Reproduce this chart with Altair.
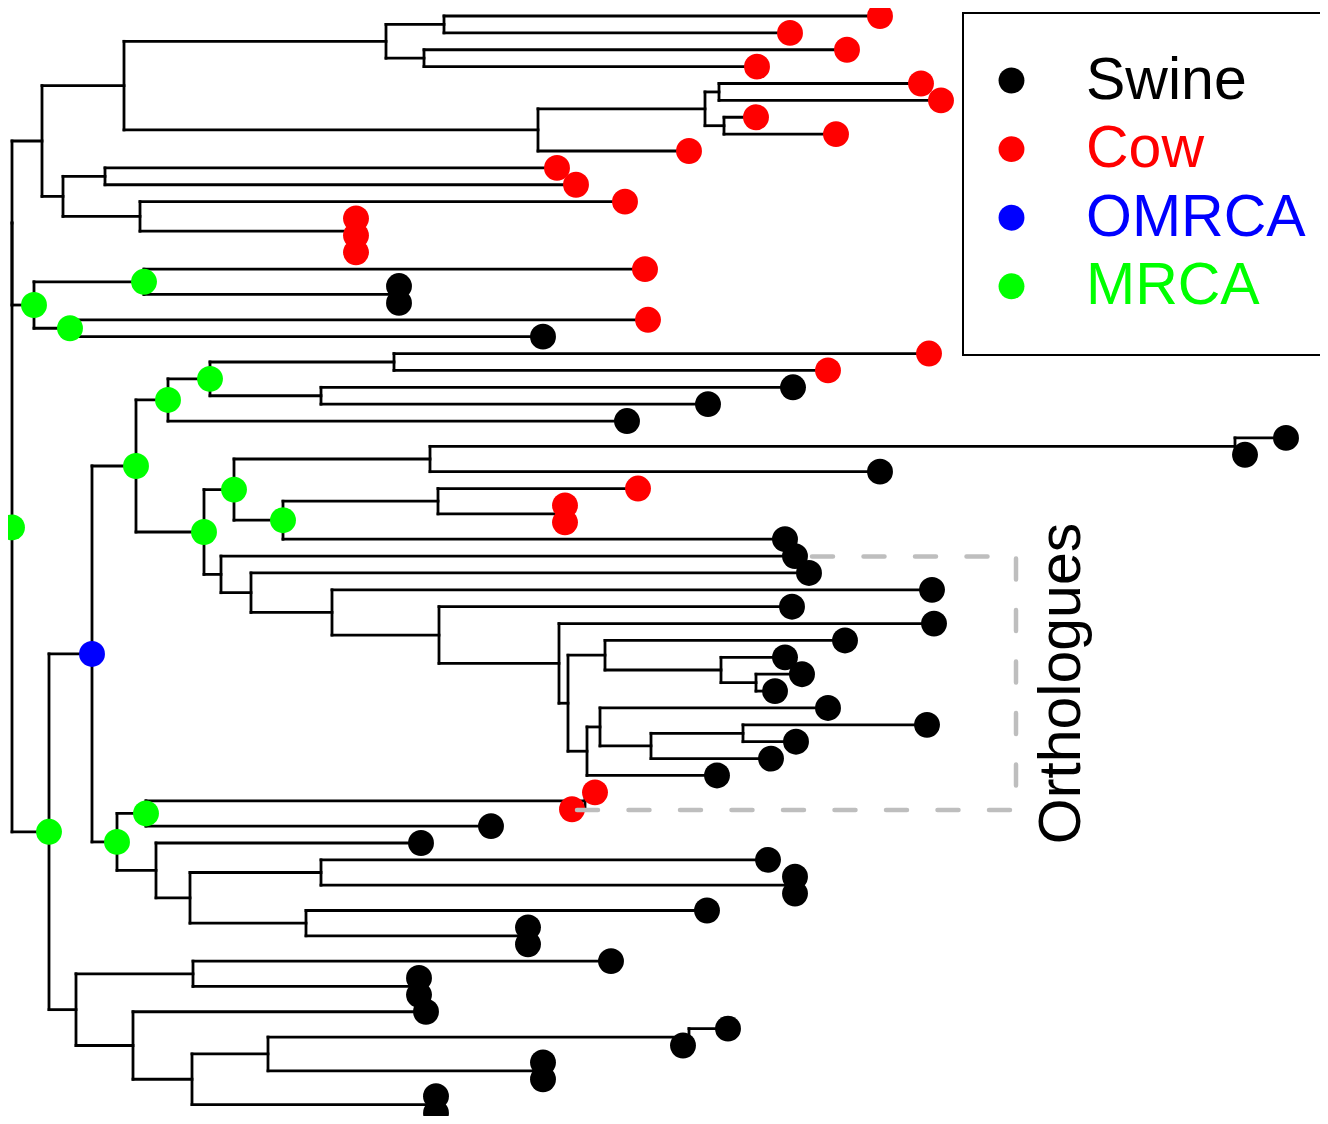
import altair as alt
import pandas as pd

# ---------------- data ----------------
# Tips, top to bottom: depth from the root (branch-length units) and host
tip_depth = [0.868, 0.778, 0.835, 0.745, 0.909, 0.929, 0.744, 0.824, 0.677, 0.545,
             0.564, 0.613, 0.344, 0.344, 0.344, 0.633, 0.387, 0.387, 0.636, 0.531,
             0.917, 0.816, 0.781, 0.696, 0.615, 1.274, 1.233, 0.868, 0.626, 0.553,
             0.553, 0.773, 0.783, 0.797, 0.920, 0.780, 0.922, 0.833, 0.773, 0.790,
             0.763, 0.816, 0.915, 0.784, 0.759, 0.705, 0.583, 0.560, 0.479, 0.409,
             0.756, 0.783, 0.783, 0.695, 0.516, 0.516, 0.599, 0.407, 0.407, 0.414,
             0.716, 0.671, 0.531, 0.531, 0.424, 0.424]
tip_host = (["Cow"] * 16 + ["Swine"] * 2 + ["Cow"] + ["Swine"] + ["Cow"] * 2 +
            ["Swine"] * 6 + ["Cow"] * 3 + ["Swine"] * 15 + ["Cow"] * 2 + ["Swine"] * 18)

# Internal nodes: name, depth, children (ints are tips), marker
node_name = ["root", "AC", "A", "A1", "A1a", "A1a1", "A1a2", "A1b", "A1b1", "A1b1a",
             "A1b1b", "A2", "A2a", "A2b", "X", "Y", "C", "C1", "C1b", "C2",
             "B", "B1", "B1a", "B1a1", "B1a1a", "B1a1a1", "B1a1a2", "B1a2", "B1a2a", "N430",
             "N1235", "G283", "N438", "N560", "B1a2b", "N251", "N332", "N439", "N559", "N568",
             "N605", "N721", "N756", "N587", "N600", "N651", "N743", "B1b", "B1b1", "N585",
             "B1b2", "N190", "N321", "N788", "N306", "N522", "B2", "B2a", "N414", "B2b",
             "N192", "N268", "N689", "N538", "N432"]
node_depth = [0.000, 0.000, 0.030, 0.112, 0.374, 0.432, 0.412, 0.526, 0.693, 0.707,
              0.712, 0.051, 0.093, 0.128, 0.337, 0.340, 0.022, 0.132, 0.381, 0.058,
              0.037, 0.080, 0.124, 0.156, 0.198, 0.382, 0.309, 0.192, 0.222, 0.418,
              1.223, 0.271, 0.426, 0.548, 0.209, 0.239, 0.320, 0.427, 0.547, 0.556,
              0.593, 0.709, 0.744, 0.575, 0.588, 0.639, 0.731, 0.105, 0.134, 0.573,
              0.144, 0.178, 0.309, 0.776, 0.294, 0.510, 0.064, 0.181, 0.402, 0.121,
              0.180, 0.256, 0.677, 0.526, 0.420]
node_kids = [["AC", "B"], ["A", "C"], ["A1", "A2"], ["A1a", "A1b"], ["A1a1", "A1a2"],
             [0, 1], [2, 3], ["A1b1", 8], ["A1b1a", "A1b1b"], [4, 5],
             [6, 7], ["A2a", "A2b"], [9, 10], [11, "X"], [12, "Y"], [13, 14],
             ["C1", "C2"], [15, "C1b"], [16, 17], [18, 19],
             ["B1", "B2"], ["B1a", "B1b"], ["B1a1", "B1a2"], ["B1a1a", 24],
             ["B1a1a1", "B1a1a2"], [20, 21], [22, 23], ["B1a2a", "B1a2b"],
             ["N430", "G283"], ["N1235", 27],
             [25, 26], ["N438", 31], [28, "N560"], [29, 30], [32, "N251"],
             [33, "N332"], [34, "N439"], [35, "N559"], [36, "N568"], ["N605", "N587"],
             [37, "N721"], [38, "N756"], [39, 40], ["N600", 45], [41, "N651"],
             ["N743", 44], [42, 43], ["B1b1", "B1b2"], ["N585", 48], [46, 47],
             [49, "N190"], ["N321", "N306"], [50, "N788"], [51, 52], [53, "N522"],
             [54, 55], ["B2a", "B2b"], [56, "N414"], [57, 58], [59, "N192"],
             ["N268", "N432"], ["N689", "N538"], [60, 61], [62, 63], [64, 65]]
mrca_nodes = ["root", "C", "C1", "C2", "B", "B1a", "B1a1", "B1a1a", "B1a2",
              "B1a2a", "G283", "B1b", "B1b1"]
omrca_nodes = ["B1"]

categories = ["Swine", "Cow", "OMRCA", "MRCA"]
cat_colors = ["#000000", "#FF0000", "#0000FF", "#00FF00"]

# Orthologue bracket (depth, tip position)
bracket_x = [0.800, 1.004, 1.004, 0.558]
bracket_y = [32.03, 32.03, 47.05, 47.05]
ortho_label = "Orthologues"
ortho_x, ortho_y = 1.068, 39.55

# ---------------- build tree geometry ----------------
depth = {i: d for i, d in enumerate(tip_depth)}
ypos = {i: float(i) for i in range(len(tip_depth))}
kids = dict(zip(node_name, node_kids))
for n, d in zip(node_name, node_depth):
    depth[n] = d


def gety(n):
    if n not in ypos:
        ys = [gety(c) for c in kids[n]]
        ypos[n] = sum(ys) / len(ys)
    return ypos[n]


segs = []
for n in node_name:
    cy = [gety(c) for c in kids[n]]
    segs.append(dict(x=depth[n], x2=depth[n], y=min(cy), y2=max(cy)))
    for c in kids[n]:
        segs.append(dict(x=depth[n], x2=depth[c], y=gety(c), y2=gety(c)))
seg_df = pd.DataFrame(segs)

pts = [dict(x=depth[i], y=gety(i), cat=h) for i, h in enumerate(tip_host)]
pts += [dict(x=depth[n], y=gety(n), cat="MRCA") for n in mrca_nodes]
pts += [dict(x=depth[n], y=gety(n), cat="OMRCA") for n in omrca_nodes]
pt_df = pd.DataFrame(pts)

br_df = pd.DataFrame(dict(x=bracket_x, y=bracket_y, o=list(range(len(bracket_x)))))
tx_df = pd.DataFrame(dict(x=[ortho_x], y=[ortho_y], t=[ortho_label]))

xs = alt.Scale(domain=[-0.004, 1.308], nice=False, zero=False)
ys = alt.Scale(domain=[-0.474, 65.177], reverse=True, nice=False, zero=False)

edges = alt.Chart(seg_df).mark_rule(color="black", strokeWidth=2.8, strokeCap="square").encode(
    x=alt.X("x:Q", scale=xs, axis=None),
    x2="x2:Q",
    y=alt.Y("y:Q", scale=ys, axis=None),
    y2="y2:Q",
)

legend = alt.Legend(
    orient="none", legendX=955, legendY=5, title=None, padding=38,
    symbolSize=670, symbolType="circle", symbolStrokeWidth=0, symbolOffset=-19,
    labelFontSize=59, labelFont="Liberation Sans", labelOffset=45, labelLimit=0,
    rowPadding=8.6, strokeColor="black", fillColor="white",
    labelColor={"expr": "scale('color', datum.value)"},
)

dots = alt.Chart(pt_df).mark_point(filled=True, size=670, opacity=1, strokeWidth=0, clip=True).encode(
    x=alt.X("x:Q", scale=xs, axis=None),
    y=alt.Y("y:Q", scale=ys, axis=None),
    color=alt.Color("cat:N", scale=alt.Scale(domain=categories, range=cat_colors), legend=legend),
)

bracket = alt.Chart(br_df).mark_line(color="#BEBEBE", strokeWidth=4.5, strokeDash=[21, 30.5],
                                     strokeCap="round").encode(
    x=alt.X("x:Q", scale=xs, axis=None),
    y=alt.Y("y:Q", scale=ys, axis=None),
    order="o:Q",
)

text = alt.Chart(tx_df).mark_text(angle=270, align="center", baseline="alphabetic", fontSize=59,
                                  font="Liberation Sans", color="black").encode(
    x=alt.X("x:Q", scale=xs, axis=None),
    y=alt.Y("y:Q", scale=ys, axis=None),
    text="t:N",
)

chart = alt.layer(edges, dots, bracket, text).properties(
    width=1312, height=1108, padding=0, autosize="none"
).configure_view(stroke=None).configure_legend(strokeWidth=2)

chart.save("out.html", embed_options={"renderer": "svg", "actions": False})
